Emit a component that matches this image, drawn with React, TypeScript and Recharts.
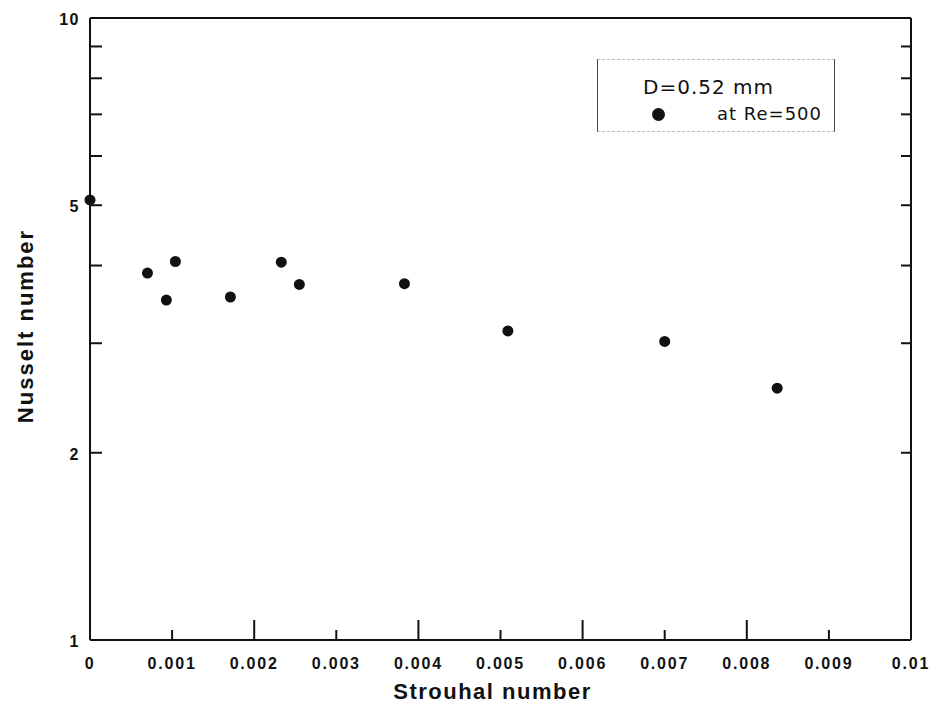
import React from 'react';
import { ScatterChart, Scatter, XAxis, YAxis, ReferenceLine } from 'recharts';

const strouhal = [0, 0.0007, 0.00093, 0.00104, 0.00171, 0.00233, 0.00255, 0.00383, 0.00509, 0.007, 0.00837];
const nusselt = [5.1, 3.89, 3.52, 4.06, 3.56, 4.05, 3.73, 3.74, 3.14, 3.02, 2.54];

const xTicks = [0, 0.001, 0.002, 0.003, 0.004, 0.005, 0.006, 0.007, 0.008, 0.009, 0.01];
const yTicks = [1, 2, 3, 4, 5, 6, 7, 8, 9, 10];
const yLabels = [1, 2, 5, 10];
const majorX = [0.002, 0.004, 0.006, 0.008];

const data = strouhal.map((s, i) => ({ st: s, nu: nusselt[i] }));

const FONT = '"Liberation Sans", Arial, sans-serif';

const XTick = (props: any) => {
    const { x, y, payload } = props;
    const v = payload.value;
    const len = majorX.includes(v) ? 20 : v === 0 || v === 0.01 ? 0 : 10;
    return (
        <g>
            {len > 0 && <line x1={x} y1={y} x2={x} y2={y - len} stroke="#111" strokeWidth={2} />}
            <text x={x} y={y + 29} textAnchor="middle" fontFamily={FONT} fontSize={16} fontWeight="bold" letterSpacing={1.8} fill="#111">
                {String(v)}
            </text>
        </g>
    );
};

const YTick = (props: any) => {
    const { x, y, payload } = props;
    const v = payload.value;
    const showTick = v !== 1 && v !== 10;
    return (
        <g>
            {showTick && <line x1={x} y1={y} x2={x + 12} y2={y} stroke="#111" strokeWidth={2} />}
            {yLabels.includes(v) && (
                <text x={x - 10} y={y + 7} textAnchor="end" fontFamily={FONT} fontSize={16} fontWeight="bold" letterSpacing={1.5} fill="#111">
                    {v}
                </text>
            )}
        </g>
    );
};

const RTick = (props: any) => {
    const { x, y, payload } = props;
    const v = payload.value;
    if (v === 1 || v === 10) return <g />;
    return <line x1={x} y1={y} x2={x - 10} y2={y} stroke="#111" strokeWidth={2} />;
};

const Dot = (props: any) => <circle cx={props.cx} cy={props.cy} r={5.5} fill="#111" />;
const NoDot = () => <g />;

const App = () => {
    return (
        <div style={{ position: 'absolute', left: 0, top: 0, width: 930, height: 710, background: '#fff' }}>
            <ScatterChart width={930} height={710} margin={{ top: 18, right: 9, bottom: 30, left: 30 }}>
                <XAxis
                    dataKey="st"
                    type="number"
                    domain={[0, 0.01]}
                    ticks={xTicks}
                    interval={0}
                    height={40}
                    tickSize={0}
                    tickMargin={0}
                    tick={<XTick />}
                    axisLine={{ stroke: '#111', strokeWidth: 2 }}
                    label={{
                        content: (p: any) => (
                            <text x={p.viewBox.x + p.viewBox.width / 2 - 8} y={699} textAnchor="middle" fontFamily={FONT} fontSize={22} fontWeight="bold" letterSpacing={1.5} fill="#111">
                                Strouhal number
                            </text>
                        ),
                    }}
                />
                <YAxis
                    dataKey="nu"
                    type="number"
                    scale="log"
                    domain={[1, 10]}
                    ticks={yTicks}
                    interval={0}
                    width={60}
                    tickSize={0}
                    tickMargin={0}
                    tick={<YTick />}
                    axisLine={{ stroke: '#111', strokeWidth: 2 }}
                    label={{
                        content: (p: any) => {
                            const cy = p.viewBox.y + p.viewBox.height / 2 - 3;
                            return (
                                <text x={33} y={cy} transform={`rotate(-90, 33, ${cy})`} textAnchor="middle" fontFamily={FONT} fontSize={22} fontWeight="bold" letterSpacing={2} fill="#111">
                                    Nusselt number
                                </text>
                            );
                        },
                    }}
                />
                <YAxis
                    yAxisId="r"
                    orientation="right"
                    dataKey="nu"
                    type="number"
                    scale="log"
                    domain={[1, 10]}
                    ticks={yTicks}
                    interval={0}
                    width={10}
                    tickSize={0}
                    tickMargin={0}
                    tick={<RTick />}
                    axisLine={{ stroke: '#111', strokeWidth: 2 }}
                />
                <ReferenceLine y={10} stroke="#111" strokeWidth={2} ifOverflow="visible" />
                <Scatter data={data} shape={<Dot />} isAnimationActive={false} />
                <Scatter data={data} yAxisId="r" shape={<NoDot />} isAnimationActive={false} />
            </ScatterChart>
            <div
                style={{
                    position: 'absolute',
                    left: 597,
                    top: 59,
                    width: 238,
                    height: 73,
                    boxSizing: 'border-box',
                    borderLeft: '1.5px solid #444',
                    borderRight: '1.5px solid #444',
                    borderTop: '1px dashed #bbb',
                    borderBottom: '1px dashed #bbb',
                    fontFamily: '"DejaVu Sans", sans-serif',
                    color: '#111',
                }}
            >
                <div style={{ position: 'absolute', left: 45, top: 16, fontSize: 20, letterSpacing: 1, lineHeight: '22px' }}>D=0.52 mm</div>
                <div style={{ position: 'absolute', left: 54, top: 48, width: 13, height: 13, borderRadius: '50%', background: '#111' }} />
                <div style={{ position: 'absolute', left: 119, top: 43, fontSize: 18, letterSpacing: 1, lineHeight: '22px' }}>at Re=500</div>
            </div>
        </div>
    );
};

export default App;
